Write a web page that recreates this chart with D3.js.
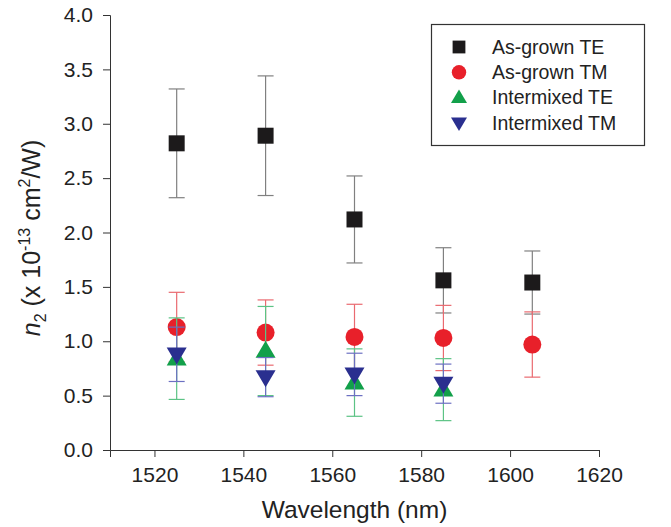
<!DOCTYPE html>
<html>
<head>
<meta charset="utf-8">
<script src="https://cdn.jsdelivr.net/npm/d3@7"></script>
<style>
  body { margin: 0; background: #fff; }
  text { font-family: "Liberation Sans", Arial, sans-serif; fill: #222; }
</style>
</head>
<body>
<script>
var w = 671;
var h = 527;

// wavelengths (nm)
var wavelengths = [1525, 1545, 1565, 1585, 1605];

// n2 values (x 1e-13 cm^2/W) and error bar half-widths
var grownTE = [2.82, 2.89, 2.12, 1.56, 1.54];
var grownTEErr = [0.50, 0.55, 0.40, 0.30, 0.29];
var grownTM = [1.13, 1.08, 1.04, 1.03, 0.97];
var grownTMErr = [0.32, 0.30, 0.30, 0.30, 0.30];
var mixedTE = [0.84, 0.91, 0.62, 0.555];
var mixedTEErr = [0.375, 0.41, 0.31, 0.285];
var mixedTM = [0.88, 0.67, 0.695, 0.61];
var mixedTMErr = [0.25, 0.18, 0.195, 0.18];

var xTicks = [1520, 1540, 1560, 1580, 1600, 1620];
var yTicks = [0, 0.5, 1, 1.5, 2, 2.5, 3, 3.5, 4];

var series = [
    { name: "As-grown TE", y: grownTE, err: grownTEErr, shape: "square", fill: "#1c1a1b", bar: "#808080" },
    { name: "As-grown TM", y: grownTM, err: grownTMErr, shape: "circle", fill: "#e8202a", bar: "#ea6a70" },
    { name: "Intermixed TE", y: mixedTE, err: mixedTEErr, shape: "up", fill: "#12a04a", bar: "#5cc385" },
    { name: "Intermixed TM", y: mixedTM, err: mixedTMErr, shape: "down", fill: "#2a2f8f", bar: "#6c70c2" }
];

var xScale = d3.scaleLinear().domain([1510, 1620]).range([110, 599]);
var yScale = d3.scaleLinear().domain([0, 4]).range([450, 15]);

var svg = d3.select("body").append("svg")
    .attr("width", w)
    .attr("height", h);

// axes
var xAxis = svg.append("g")
    .attr("transform", "translate(0," + yScale(0) + ")");
xAxis.call(d3.axisBottom(xScale).tickValues(d3.range(1510, 1621, 10)).tickSize(4).tickFormat(""));
xAxis.call(d3.axisBottom(xScale).tickValues(xTicks).tickSize(7).tickPadding(10).tickFormat(d3.format("d")));
xAxis.selectAll("path, line").attr("stroke", "#333");
xAxis.selectAll("text").style("font-size", "21px").attr("fill", "#222");

var yAxis = svg.append("g")
    .attr("transform", "translate(" + xScale(1510) + ",0)");
yAxis.call(d3.axisLeft(yScale).tickValues(d3.range(0, 4.01, 0.25)).tickSize(4).tickFormat(""));
yAxis.call(d3.axisLeft(yScale).tickValues(yTicks).tickSize(7).tickPadding(10).tickFormat(d3.format(".1f")));
yAxis.selectAll("path, line").attr("stroke", "#333");
yAxis.selectAll("text").style("font-size", "21px").attr("fill", "#222");

// axis titles
svg.append("text")
    .attr("x", (xScale.range()[0] + xScale.range()[1]) / 2)
    .attr("y", 518)
    .attr("text-anchor", "middle")
    .style("font-size", "24.5px")
    .text("Wavelength (nm)");

var yTitle = svg.append("text")
    .attr("transform", "translate(40,238) rotate(-90)")
    .attr("text-anchor", "middle")
    .style("font-size", "25px");
yTitle.append("tspan").style("font-style", "italic").text("n");
yTitle.append("tspan").attr("dy", 6).style("font-size", "16px").text("2");
yTitle.append("tspan").attr("dy", -6).text(" (x 10");
yTitle.append("tspan").attr("dy", -10).style("font-size", "16px").text("-13");
yTitle.append("tspan").attr("dy", 10).text(" cm");
yTitle.append("tspan").attr("dy", -10).style("font-size", "16px").text("2");
yTitle.append("tspan").attr("dy", 10).text("/W)");

function symbolFor(shape, size) {
    if (shape == "square") return d3.symbol().type(d3.symbolSquare).size(size * size)();
    if (shape == "circle") return d3.symbol().type(d3.symbolCircle).size(Math.PI * size * size / 4)();
    var s = size / 2;
    var hgt = size * 0.85;
    if (shape == "up") return "M0," + (-hgt * 0.6) + "L" + s + "," + (hgt * 0.4) + "L" + (-s) + "," + (hgt * 0.4) + "Z";
    return "M0," + (hgt * 0.6) + "L" + s + "," + (-hgt * 0.4) + "L" + (-s) + "," + (-hgt * 0.4) + "Z";
}

var markerSize = { square: 16, circle: 18, up: 20, down: 20 };
var cap = 8;

series.forEach(function (s) {
    var pts = s.y.map(function (v, i) {
        return { x: wavelengths[i], y: v, e: s.err[i] };
    });
    var g = svg.append("g");

    var bars = g.selectAll("g.bar")
        .data(pts)
        .enter()
        .append("g")
        .attr("stroke", s.bar)
        .attr("stroke-width", 1.2);
    bars.append("line")
        .attr("x1", function (d) { return xScale(d.x); })
        .attr("x2", function (d) { return xScale(d.x); })
        .attr("y1", function (d) { return yScale(d.y - d.e); })
        .attr("y2", function (d) { return yScale(d.y + d.e); });
    bars.append("line")
        .attr("x1", function (d) { return xScale(d.x) - cap; })
        .attr("x2", function (d) { return xScale(d.x) + cap; })
        .attr("y1", function (d) { return yScale(d.y + d.e); })
        .attr("y2", function (d) { return yScale(d.y + d.e); });
    bars.append("line")
        .attr("x1", function (d) { return xScale(d.x) - cap; })
        .attr("x2", function (d) { return xScale(d.x) + cap; })
        .attr("y1", function (d) { return yScale(d.y - d.e); })
        .attr("y2", function (d) { return yScale(d.y - d.e); });

    g.selectAll("path.mark")
        .data(pts)
        .enter()
        .append("path")
        .attr("class", "mark")
        .attr("d", symbolFor(s.shape, markerSize[s.shape]))
        .attr("transform", function (d) {
            return "translate(" + xScale(d.x) + "," + yScale(d.y) + ")";
        })
        .attr("fill", s.fill);
});

// legend
var legend = svg.append("g");
legend.append("rect")
    .attr("x", 431.5)
    .attr("y", 24.5)
    .attr("width", 213)
    .attr("height", 121)
    .attr("fill", "#fff")
    .attr("stroke", "#333")
    .attr("stroke-width", 1.2);

var rows = legend.selectAll("g.row")
    .data(series)
    .enter()
    .append("g")
    .attr("transform", function (d, i) {
        return "translate(459," + (47 + i * 25.3) + ")";
    });
rows.append("path")
    .attr("d", function (d) { return symbolFor(d.shape, markerSize[d.shape] * 0.8); })
    .attr("fill", function (d) { return d.fill; });
rows.append("text")
    .attr("x", 33)
    .attr("dy", "0.35em")
    .style("font-size", "19.5px")
    .text(function (d) { return d.name; });
</script>
</body>
</html>
